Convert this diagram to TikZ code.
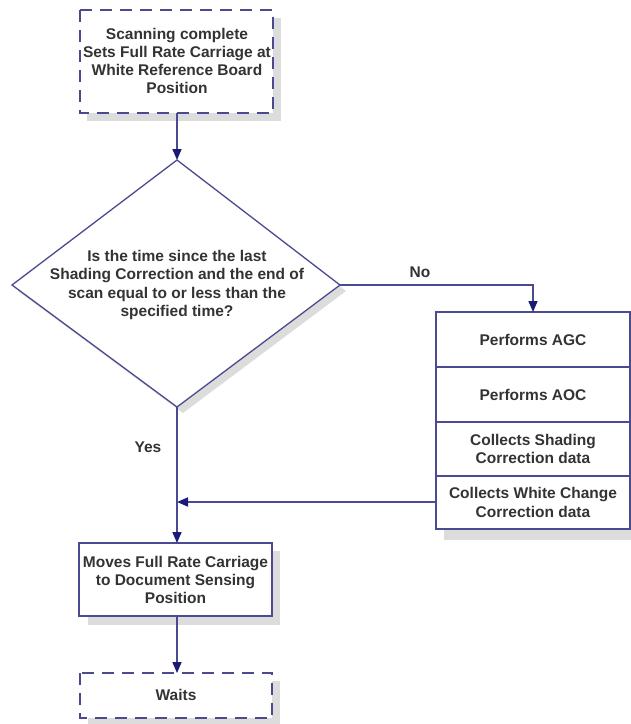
\documentclass[tikz,border=0pt]{standalone}
\usepackage{fontspec}
\setmainfont{Liberation Sans}
\usetikzlibrary{arrows.meta}
\definecolor{edge}{HTML}{4A4A90}
\definecolor{tip}{HTML}{1A1A78}
\definecolor{shad}{HTML}{DCDCDC}
\begin{document}
\begin{tikzpicture}[x=1pt,y=-1pt,
  txt/.style={font=\bfseries\fontsize{15.5}{18.3}\selectfont,text=black!80,align=center,inner sep=0pt},
  dashbox/.style={draw=edge,line width=2pt,dash pattern=on 12pt off 8pt,fill=white},
  solidbox/.style={draw=edge,line width=1.6pt,fill=white},
  flow/.style={draw=edge,line width=1.6pt},
  arr/.style={flow,-{Triangle[length=11pt,width=9pt,fill=tip,color=tip]}},
  lbl/.style={font=\bfseries\fontsize{15.5}{18}\selectfont,text=black!80,inner sep=0pt}]
\useasboundingbox (0,0) rectangle (631,724);
% shadows
\fill[shad] (87,18) rectangle (281,121);
\fill[shad] (18,291) -- (183,166) -- (346,291) -- (183,413) -- cycle;
\fill[shad] (444,320) rectangle (631,540);
\fill[shad] (88,551) rectangle (280,625);
\fill[shad] (88,681) rectangle (280,726);
% top box
\draw[dashbox] (80,10) rectangle (273,113);
\node[txt] (start) at (177,61) {Scanning complete\\Sets Full Rate Carriage at\\White Reference Board\\Position};
\coordinate (startS) at (177,113);
% diamond
\coordinate (dT) at (177,160);
\coordinate (dL) at (12,285);
\coordinate (dR) at (340,285);
\coordinate (dB) at (177,407);
\draw[solidbox,line width=1.3pt] (dT) -- (dR) -- (dB) -- (dL) -- cycle;
\node[txt] (dec) at (177,285) {Is the time since the last\\Shading Correction and the end of\\scan equal to or less than the\\specified time?};
% right stack
\draw[solidbox] (436,312) rectangle (630,529);
\draw[flow] (436,367) -- (630,367);
\draw[flow] (436,422) -- (630,422);
\draw[flow] (436,476) -- (630,476);
\node[txt] (agc) at (533,339.5) {Performs AGC};
\node[txt] (aoc) at (533,394.5) {Performs AOC};
\node[txt] (shd) at (533,449) {Collects Shading\\Correction data};
\node[txt] (wch) at (533,502.5) {Collects White Change\\Correction data};
\coordinate (stackT) at (533,312);
\coordinate (stackL) at (436,502);
\coordinate (join) at (177,502);
% moves box
\draw[solidbox] (79,543) rectangle (272,616);
\node[txt] (moves) at (175.5,580) {Moves Full Rate Carriage\\to Document Sensing\\Position};
\coordinate (movesT) at (177,543);
\coordinate (movesB) at (177,616);
% waits box
\draw[dashbox] (80,673) rectangle (272,718);
\node[txt] (waits) at (176,695) {Waits};
\coordinate (waitsT) at (177,673);
% connectors
\draw[arr] (startS) -- (dT);
\draw[arr] (dR) -- (533,285) -- (stackT);
\draw[arr] (stackL) -- (join);
\draw[arr] (dB) -- (movesT);
\draw[arr] (movesB) -- (waitsT);
\node[lbl] (no) at (420,272) {No};
\node[lbl] (yes) at (148,447) {Yes};
\end{tikzpicture}
\end{document}
